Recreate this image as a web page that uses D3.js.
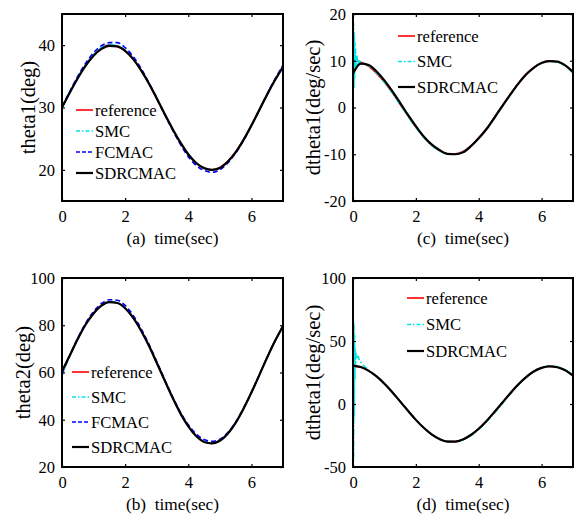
<!DOCTYPE html>
<html>
<head>
<meta charset="utf-8">
<script src="https://cdn.jsdelivr.net/npm/d3@7"></script>
<style>
  body { margin: 0; background: #fff; }
  svg text { font-family: "Liberation Serif", "Times New Roman", serif; fill: #000; white-space: pre; }
</style>
</head>
<body>
<div id="chart"></div>
<script>
// shared time base (sec)
const time = [0, 0.25, 0.5, 0.75, 1, 1.25, 1.5, 1.75, 2, 2.25, 2.5, 2.75, 3, 3.25, 3.5,
  3.75, 4, 4.25, 4.5, 4.75, 5, 5.25, 5.5, 5.75, 6, 6.25, 6.5, 6.75, 7];
// fine time base for the SMC start-up chattering
const spikeTime = [0.02, 0.03, 0.04, 0.05, 0.06, 0.07, 0.08, 0.1, 0.13, 0.16, 0.2];

const xTicks = [0, 2, 4, 6];

// (a) theta1
const refA = [30, 32.5, 34.8, 36.8, 38.4, 39.5, 40.0, 39.8, 39.1, 37.8, 36.0, 33.8, 31.4, 28.9, 26.5,
  24.3, 22.4, 21.1, 20.2, 20.0, 20.4, 21.4, 22.9, 24.9, 27.2, 29.7, 32.2, 34.5, 36.6];
const smcA = [30.1, 32.6, 34.9, 36.9, 38.5, 39.6, 40.1, 39.9, 39.2, 37.9, 36.1, 33.9, 31.5, 29.0, 26.6,
  24.4, 22.4, 21.1, 20.2, 20.0, 20.3, 21.3, 22.8, 24.8, 27.1, 29.6, 32.1, 34.5, 36.7];
const fcmacA = [30.1, 32.6, 35.0, 37.1, 38.8, 39.9, 40.4, 40.4, 39.6, 38.2, 36.3, 34.0, 31.5, 28.9, 26.4,
  24.1, 22.1, 20.7, 19.9, 19.6, 20.0, 21.1, 22.7, 24.7, 27.1, 29.6, 32.2, 34.6, 36.8];
const sdrcA = [30, 32.4, 34.7, 36.7, 38.3, 39.4, 39.9, 39.8, 39.1, 37.8, 36.0, 33.9, 31.5, 29.0, 26.6,
  24.4, 22.5, 21.1, 20.3, 20.0, 20.3, 21.3, 22.8, 24.8, 27.1, 29.6, 32.1, 34.4, 36.5];

// (b) theta2
const refB = [60, 67.4, 74.4, 80.5, 85.2, 88.5, 89.9, 89.5, 87.3, 83.3, 77.9, 71.5, 64.2, 56.8, 49.5,
  42.8, 37.3, 33.2, 30.7, 30.0, 31.2, 34.2, 38.8, 44.8, 51.6, 59.0, 66.5, 73.5, 79.7];
const smcB = [58.5, 67.2, 74.4, 80.5, 85.2, 88.5, 90.0, 89.6, 87.4, 83.4, 78.0, 71.5, 64.2, 56.8, 49.5,
  42.8, 37.3, 33.2, 30.8, 30.1, 31.3, 34.3, 38.9, 44.8, 51.6, 59.0, 66.5, 73.5, 79.7];
const fcmacB = [59.5, 67.3, 74.6, 80.9, 85.8, 89.2, 90.8, 90.6, 88.4, 84.3, 78.7, 72.1, 64.7, 57.1, 49.8,
  43.2, 37.9, 34.0, 31.6, 30.9, 31.8, 34.6, 39.0, 44.9, 51.6, 59.0, 66.4, 73.4, 79.7];
const sdrcB = [60.5, 67.3, 74.2, 80.3, 85.0, 88.3, 89.8, 89.4, 87.2, 83.2, 77.8, 71.4, 64.1, 56.7, 49.4,
  42.7, 37.2, 33.1, 30.6, 30.0, 31.1, 34.1, 38.7, 44.7, 51.5, 58.9, 66.4, 73.4, 79.6];

// (c) dtheta1
const refC = [10.0, 9.7, 8.8, 7.3, 5.4, 3.2, 0.7, -1.8, -4.2, -6.3, -8.0, -9.2, -9.9, -9.9, -9.4,
  -8.2, -6.5, -4.5, -2.1, 0.4, 2.8, 5.1, 7.1, 8.6, 9.6, 10.0, 9.8, 9.0, 7.5];
const smcSpikeC = [18, 4, 16, 6, 14, 8, 12.5, 8.5, 11, 9, 10];
const smcC = [10.0, 9.6, 8.9, 7.4, 5.4, 3.1, 0.6, -1.9, -4.3, -6.4, -8.1, -9.3, -10.0, -10.0, -9.5,
  -8.3, -6.6, -4.6, -2.3, 0.2, 2.7, 5.0, 7.0, 8.5, 9.5, 9.9, 9.7, 8.9, 7.4];
const sdrcC = [7.3, 9.4, 9.1, 7.7, 5.8, 3.5, 1.0, -1.6, -4.0, -6.2, -7.9, -9.1, -9.9, -10.0, -9.6,
  -8.3, -6.6, -4.6, -2.2, 0.3, 2.7, 5.0, 7.0, 8.5, 9.5, 9.9, 9.8, 9.0, 7.6];

// (d) dtheta (second joint)
const refD = [30.0, 29.1, 26.3, 21.9, 16.2, 9.5, 2.1, -5.3, -12.5, -18.8, -24.0, -27.7, -29.7, -29.8, -28.1,
  -24.6, -19.6, -13.4, -6.3, 1.1, 8.5, 15.4, 21.3, 25.9, 28.8, 30.0, 29.3, 26.9, 22.6];
const smcSpikeD = [-45, 65, -10, 55, 20, 45, 30, 40, 36, 38, 35];
const smcD = [35, 33, 27, 22, 16.3, 9.6, 2.2, -5.2, -12.4, -18.7, -23.9, -27.6, -29.6, -29.8, -28.3,
  -25.0, -20.2, -14.1, -7.1, 0.3, 7.8, 14.8, 20.9, 25.6, 28.7, 30.1, 29.6, 27.2, 23.0];
const sdrcD = [30.5, 29.3, 26.3, 21.9, 16.1, 9.4, 2.0, -5.4, -12.6, -18.9, -24.1, -27.8, -29.8, -29.9, -28.1,
  -24.6, -19.6, -13.4, -6.3, 1.0, 8.4, 15.3, 21.2, 25.8, 28.7, 29.9, 29.2, 26.8, 22.5];

const seriesStyle = {
  reference: { color: "#ff0000", width: 1.6, dash: null, legendDash: null },
  SMC: { color: "#00e5e5", width: 1.6, dash: "6,2,1.5,2", legendDash: "4,2,1.5,2" },
  FCMAC: { color: "#0000ff", width: 1.6, dash: "5,3", legendDash: "4,2" },
  SDRCMAC: { color: "#000000", width: 2.2, dash: null, legendDash: null }
};

const zip = (xs, ys) => xs.map((x, i) => [x, ys[i]]);
const withSpike = (spike, main) =>
  [[0, main[0]]].concat(zip(spikeTime, spike), zip(time, main).filter(d => d[0] > 0.2));

const panels = [
  { id: "a", box: [62, 14, 283, 201], yDomain: [15, 45], yTicks: [20, 30, 40],
    ylabel: "theta1(deg)", ylabelDx: -34, xlabel: "(a)  time(sec)",
    legend: { x: 76, y: 110, step: 21 },
    series: [["reference", zip(time, refA)], ["SMC", zip(time, smcA)],
             ["FCMAC", zip(time, fcmacA)], ["SDRCMAC", zip(time, sdrcA)]] },
  { id: "c", box: [353, 14, 573, 201], yDomain: [-20, 20], yTicks: [-20, -10, 0, 10, 20],
    ylabel: "dtheta1(deg/sec)", ylabelDx: -40, xlabel: "(c)  time(sec)",
    legend: { x: 398, y: 36, step: 25.5 },
    series: [["reference", zip(time, refC)], ["SMC", withSpike(smcSpikeC, smcC)],
             ["SDRCMAC", zip(time, sdrcC)]] },
  { id: "b", box: [62, 278, 283, 467], yDomain: [20, 100], yTicks: [20, 40, 60, 80, 100],
    ylabel: "theta2(deg)", ylabelDx: -39, xlabel: "(b)  time(sec)",
    legend: { x: 72, y: 372, step: 25 },
    series: [["reference", zip(time, refB)], ["SMC", zip(time, smcB)],
             ["FCMAC", zip(time, fcmacB)], ["SDRCMAC", zip(time, sdrcB)]] },
  { id: "d", box: [353, 278, 573, 467], yDomain: [-50, 100], yTicks: [-50, 0, 50, 100],
    ylabel: "dtheta1(deg/sec)", ylabelDx: -40, xlabel: "(d)  time(sec)",
    legend: { x: 407, y: 298, step: 26.5 },
    series: [["reference", zip(time, refD)], ["SMC", withSpike(smcSpikeD, smcD)],
             ["SDRCMAC", zip(time, sdrcD)]] }
];

const svg = d3.select("#chart").append("svg")
  .attr("width", 575).attr("height", 516)
  .attr("font-family", "Liberation Serif");

panels.forEach(p => {
  const [x0, y0, x1, y1] = p.box;
  const x = d3.scaleLinear().domain([0, 7]).range([x0, x1]);
  const y = d3.scaleLinear().domain(p.yDomain).range([y1, y0]);
  const g = svg.append("g");

  g.append("clipPath").attr("id", "clip-" + p.id)
    .append("rect").attr("x", x0).attr("y", y0).attr("width", x1 - x0).attr("height", y1 - y0);

  // curves
  const line = d3.line().x(d => x(d[0])).y(d => y(d[1])).curve(d3.curveMonotoneX);
  const plot = g.append("g").attr("clip-path", `url(#clip-${p.id})`);
  p.series.forEach(([name, pts]) => {
    const s = seriesStyle[name];
    plot.append("path").datum(pts)
      .attr("d", line)
      .attr("fill", "none")
      .attr("stroke", s.color)
      .attr("stroke-width", s.width)
      .attr("stroke-dasharray", s.dash);
  });

  // axes: ticks pointing inward, labels outside (matlab look)
  const tickLen = 3;
  const bottom = g.append("g").attr("transform", `translate(0,${y1})`)
    .call(d3.axisBottom(x).tickValues(xTicks).tickSize(-tickLen).tickPadding(7).tickFormat(d3.format("d")));
  const top = g.append("g").attr("transform", `translate(0,${y0})`)
    .call(d3.axisTop(x).tickValues(xTicks).tickSize(-tickLen).tickFormat(""));
  const left = g.append("g").attr("transform", `translate(${x0},0)`)
    .call(d3.axisLeft(y).tickValues(p.yTicks).tickSize(-tickLen).tickPadding(7).tickFormat(d3.format("d")));
  const right = g.append("g").attr("transform", `translate(${x1},0)`)
    .call(d3.axisRight(y).tickValues(p.yTicks).tickSize(-tickLen).tickFormat(""));
  [bottom, top, left, right].forEach(a => {
    a.attr("font-family", "Liberation Serif").attr("font-size", 16.5);
    a.select(".domain").remove();
    a.selectAll(".tick line").attr("stroke", "#000").attr("stroke-width", 1.2);
  });
  bottom.selectAll("text").attr("dy", "0.85em");
  // matlab draws a plain hyphen for negatives
  left.selectAll("text").text(d => String(d));

  g.append("rect")
    .attr("x", x0).attr("y", y0).attr("width", x1 - x0).attr("height", y1 - y0)
    .attr("fill", "none").attr("stroke", "#000").attr("stroke-width", 2);

  // axis labels
  g.append("text")
    .attr("x", (x0 + x1) / 2).attr("y", y1 + 43)
    .attr("text-anchor", "middle").attr("font-size", 17.3)
    .text(p.xlabel);
  g.append("text")
    .attr("transform", `translate(${x0 + p.ylabelDx},${(y0 + y1) / 2}) rotate(-90)`)
    .attr("text-anchor", "middle").attr("dy", "0.35em").attr("font-size", 20.5)
    .text(p.ylabel);

  // legend (no box)
  const lg = g.append("g");
  p.series.forEach(([name], i) => {
    const s = seriesStyle[name];
    const ly = p.legend.y + i * p.legend.step;
    lg.append("line")
      .attr("x1", p.legend.x).attr("x2", p.legend.x + 17)
      .attr("y1", ly).attr("y2", ly)
      .attr("stroke", s.color).attr("stroke-width", s.width)
      .attr("stroke-dasharray", s.legendDash);
    lg.append("text")
      .attr("x", p.legend.x + 19).attr("y", ly).attr("dy", "0.35em")
      .attr("font-size", 16.6)
      .text(name);
  });
});
</script>
</body>
</html>
